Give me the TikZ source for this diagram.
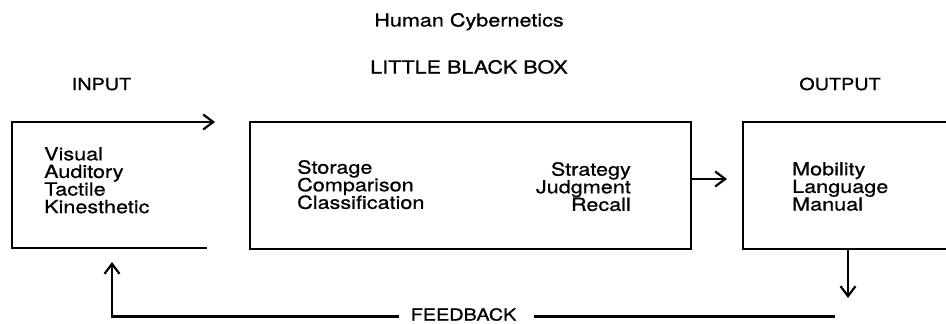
\documentclass[tikz,border=0pt]{standalone}
\usepackage{fontspec}
\setmainfont{TeX Gyre Heros}[FakeStretch=1.2, FakeBold=0.8]
\usepackage{tikz}
\usetikzlibrary{positioning, arrows.meta}
\tikzset{
  words/.style={font=\fontsize{18}{17.6}\selectfont, inner sep=0pt},
  heading/.style={font=\fontsize{16.5}{18}\selectfont, inner sep=0pt, anchor=base},
  frame/.style={line width=2.2pt},
}

\begin{document}
\begin{tikzpicture}[x=1pt, y=-1pt, >={Straight Barb[length=10pt,width=15pt]}]
    \useasboundingbox (0,0) rectangle (946,324);
    \node (title)    at (469,26.5)  [words, anchor=base] {Human Cybernetics};
    \node (lbbtitle) at (469,73.5)  [words, anchor=base] {LITTLE BLACK BOX};
    \node (input)    at (101.5,90)  [heading] {INPUT};
    \node (output)   at (840,90)    [heading] {OUTPUT};
    \coordinate (inSE)  at (207,248);
    \coordinate (inSW)  at (12,248);
    \coordinate (inNW)  at (12,122);
    \coordinate (inTip) at (215,122);
    \draw[->, frame] (inSE) -- (inSW) -- (inNW) -- (inTip);
    \node (senses)  at (44,147)  [words, align=left, anchor=north west] {Visual\\Auditory\\Tactile\\Kinesthetic};
    \node (lbb) at (470.5,185.5) [draw, frame, minimum width=441pt, minimum height=127pt] {};
    \node (process) at (297,160) [words, align=left, anchor=north west] {Storage\\Comparison\\Classification};
    \node (decide)  at (631,162) [words, align=right, anchor=north east] {Strategy\\Judgment\\Recall};
    \coordinate (outNE) at (946,122);
    \coordinate (outNW) at (743,122);
    \coordinate (outSW) at (743,249);
    \coordinate (outSE) at (946,249);
    \coordinate (outW)  at (743,179);
    \draw[frame] (outNE) -- (outNW) -- (outSW) -- (outSE);
    \node (acts) at (792,162) [words, align=left, anchor=north west] {Mobility\\Language\\Manual};
    \draw[->, frame, shorten >=16pt] (lbb.east |- outW) -- (outW);
    \coordinate (outS)   at (848,249);
    \coordinate (outArr) at (848,298);
    \draw[->, frame] (outS) -- (outArr);
    \node (fb) at (463.5,320.5) [heading] {FEEDBACK};
    \coordinate (fbR)  at (835,316.5);
    \coordinate (fbL)  at (112,316.5);
    \coordinate (inUp) at (112,262);
    \draw[frame, shorten >=18pt] (fbR) -- (fb.east |- fbR);
    \draw[->, frame, shorten <=12pt] (fb.west |- fbL) -- (fbL) -- (inUp);
\end{tikzpicture}
\end{document}
